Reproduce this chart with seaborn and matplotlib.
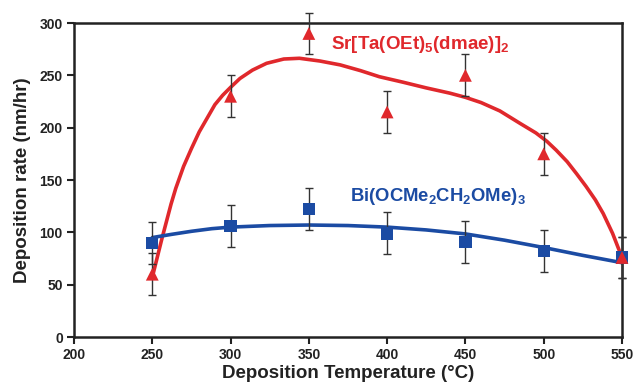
import matplotlib
matplotlib.use("Agg")
import matplotlib.pyplot as plt
import seaborn as sns
import pandas as pd

# Measured deposition rates (nm/hr) with error bars
temps = [250, 300, 350, 400, 450, 500, 550]
sr_rate = [60, 230, 290, 215, 250, 175, 76]
sr_err = [20, 20, 20, 20, 20, 20, 20]
bi_rate = [90, 106, 122, 99, 91, 82, 76]
bi_err = [20, 20, 20, 20, 20, 20, 20]

# Fitted trend curves
sr_fit_t = [250, 253, 256, 259, 262, 265, 270, 275, 280, 285, 290, 295, 300,
            306, 314, 323, 334, 344, 357, 370, 383, 395, 410, 425, 440, 450,
            460, 472, 485, 495, 502, 508, 515, 521, 527, 533, 538, 544, 550]
sr_fit_r = [57, 75, 93, 110, 127, 142, 163, 180, 196, 209, 222, 231, 238.5,
            247, 255, 261.5, 265.6, 266.3, 263.7, 260, 254.5, 248.7, 243.5,
            238, 233, 229, 224, 216, 204, 195, 187, 178.5, 167.5, 156, 144,
            131, 118, 99, 76]
bi_fit_t = [250, 262, 275, 288, 300, 325, 350, 375, 400, 425, 450, 475, 500,
            525, 550]
bi_fit_r = [95, 98, 101, 103.5, 105, 106.5, 107, 106.5, 105, 102.3, 98.5,
            92.5, 85.5, 78, 71]

x_ticks = [200, 250, 300, 350, 400, 450, 500, 550]
y_ticks = [0, 50, 100, 150, 200, 250, 300]

RED = "#e0282c"
BLUE = "#1b4ba3"
INK = "#222222"

sns.set_theme(style="ticks")
plt.rcParams["font.family"] = ["Liberation Sans", "DejaVu Sans"]
plt.rcParams["font.weight"] = "bold"
plt.rcParams["mathtext.fontset"] = "custom"
plt.rcParams["mathtext.rm"] = "Liberation Sans:bold"
plt.rcParams["mathtext.bf"] = "Liberation Sans:bold"
plt.rcParams["mathtext.it"] = "Liberation Sans:bold"

fig = plt.figure(figsize=(6.35, 3.88), dpi=100)
ax = fig.add_axes([0.1165, 0.1314, 0.863, 0.8093])

sr_fit = pd.DataFrame({"t": sr_fit_t, "r": sr_fit_r})
bi_fit = pd.DataFrame({"t": bi_fit_t, "r": bi_fit_r})
sns.lineplot(data=sr_fit, x="t", y="r", ax=ax, color=RED, lw=2.6, sort=True,
             zorder=2)
sns.lineplot(data=bi_fit, x="t", y="r", ax=ax, color=BLUE, lw=2.6, sort=True,
             zorder=2)
for ln in ax.lines:
    ln.set_solid_joinstyle("round")
    ln.set_solid_capstyle("round")

ax.errorbar(temps, bi_rate, yerr=bi_err, fmt="none", ecolor="#333333",
            elinewidth=1.0, capsize=3, capthick=1.0, zorder=3, clip_on=False)
ax.errorbar(temps, sr_rate, yerr=sr_err, fmt="none", ecolor="#333333",
            elinewidth=1.0, capsize=3, capthick=1.0, zorder=3, clip_on=False)

pts = pd.DataFrame({"t": temps, "sr": sr_rate, "bi": bi_rate})
sns.scatterplot(data=pts, x="t", y="bi", ax=ax, marker="s", s=78,
                color=BLUE, edgecolor="none", zorder=4, clip_on=False)
sns.scatterplot(data=pts, x="t", y="sr", ax=ax, marker="^", s=85,
                color=RED, edgecolor="none", zorder=5, clip_on=False)

ax.text(364, 279, r"Sr[Ta(OEt)$_\mathbf{5}$(dmae)]$_\mathbf{2}$", color=RED,
        fontsize=13.5, fontweight="bold", va="center", ha="left")
ax.text(376, 134, r"Bi(OCMe$_\mathbf{2}$CH$_\mathbf{2}$OMe)$_\mathbf{3}$",
        color=BLUE, fontsize=13.3, fontweight="bold", va="center", ha="left")

ax.set_xlim(200, 550)
ax.set_ylim(0, 300)
ax.set_xticks(x_ticks)
ax.set_yticks(y_ticks)
ax.tick_params(axis="both", direction="out", length=5, width=1.5,
               labelsize=10, colors=INK, pad=3)
for lab in ax.get_xticklabels() + ax.get_yticklabels():
    lab.set_fontweight("bold")
for sp in ax.spines.values():
    sp.set_visible(True)
    sp.set_linewidth(1.8)
    sp.set_color(INK)

ax.set_xlabel("Deposition Temperature (°C)", fontsize=13.5, fontweight="bold",
              color=INK, labelpad=2)
ax.set_ylabel("Deposition rate (nm/hr)", fontsize=13.5, fontweight="bold",
              color=INK, labelpad=6)
ax.grid(False)

fig.savefig("out.png", dpi=100)
